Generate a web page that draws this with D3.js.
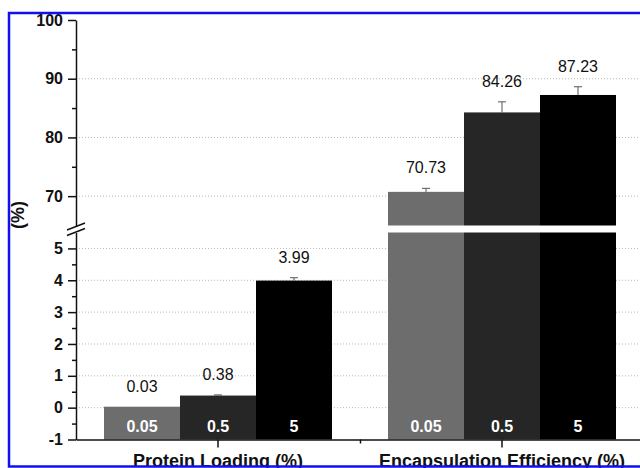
<!DOCTYPE html>
<html>
<head>
<meta charset="utf-8">
<script src="https://cdn.jsdelivr.net/npm/d3@7"></script>
<style>
    body { margin: 0; background: white; }
    svg { display: block; font-family: "Liberation Sans", Arial, sans-serif; }
</style>
</head>
<body>
<div class="bar-chart"></div>
<script>
// data
const categories = ["Protein Loading (%)", "Encapsulation Efficiency (%)"];
const series = ["0.05", "0.5", "5"];
const proteinLoading = [0.03, 0.38, 3.99];
const encapsulation = [70.73, 84.26, 87.23];
const proteinLoadingErr = [0.0, 0.02, 0.09];
const encapsulationErr = [0.6, 1.8, 1.4];
const lowTicks = [-1, 0, 1, 2, 3, 4, 5];
const lowMinor = [-0.5, 0.5, 1.5, 2.5, 3.5, 4.5];
const highTicks = [70, 80, 90, 100];
const highMinor = [65, 75, 85, 95];
const colors = ["#6d6d6d", "#262626", "#000000"];

// flatten into one row per bar
const bars = [];
categories.forEach((cat, i) => {
    const vals = i === 0 ? proteinLoading : encapsulation;
    const errs = i === 0 ? proteinLoadingErr : encapsulationErr;
    series.forEach((s, j) => bars.push({cat: cat, series: s, value: vals[j], err: errs[j], color: colors[j]}));
});

const width = 640;
const height = 468;
const margin = {left: 76, right: -4};
const breakLow = 5.5;   // lower segment ends here
const breakHigh = 65;   // upper segment starts here

const svg = d3.select(".bar-chart")
    .append("svg")
    .attr("width", width)
    .attr("height", height);

// category positions. range runs a bit past the picture like the original
const x = d3.scaleBand()
    .domain(categories)
    .range([margin.left, width - margin.right])
    .paddingInner(0)
    .paddingOuter(0);

const x1 = d3.scaleBand()
    .domain(series)
    .range([28, x.bandwidth() - 28]);

// two y scales for the broken axis
const yLow = d3.scaleLinear()
    .domain([-1, breakLow])
    .range([439.5, 232.5]);

const yHigh = d3.scaleLinear()
    .domain([breakHigh, 100])
    .range([225.5, 20]);

// dotted gridlines first so bars sit on top
const grid = svg.append("g").attr("class", "grid");
grid.selectAll("line.low")
    .data(lowTicks.filter(d => d > -1))
    .enter()
    .append("line")
    .attr("class", "low")
    .attr("x1", margin.left)
    .attr("x2", width)
    .attr("y1", d => yLow(d))
    .attr("y2", d => yLow(d));
grid.selectAll("line.high")
    .data(highTicks.filter(d => d < 100))
    .enter()
    .append("line")
    .attr("class", "high")
    .attr("x1", margin.left)
    .attr("x2", width)
    .attr("y1", d => yHigh(d))
    .attr("y2", d => yHigh(d));
grid.selectAll("line")
    .attr("stroke", "#b8b8b8")
    .attr("stroke-width", 1)
    .attr("stroke-dasharray", "1,2");

// bars. lower piece always from -1, upper piece only if value goes past the break
const barG = svg.append("g");
barG.selectAll("rect.low")
    .data(bars)
    .enter()
    .append("rect")
    .attr("class", "low")
    .attr("x", d => x(d.cat) + x1(d.series))
    .attr("width", x1.bandwidth())
    .attr("y", d => yLow(Math.min(d.value, breakLow)))
    .attr("height", d => yLow(-1) - yLow(Math.min(d.value, breakLow)))
    .attr("fill", d => d.color);

barG.selectAll("rect.high")
    .data(bars.filter(d => d.value > breakHigh))
    .enter()
    .append("rect")
    .attr("class", "high")
    .attr("x", d => x(d.cat) + x1(d.series))
    .attr("width", x1.bandwidth())
    .attr("y", d => yHigh(d.value))
    .attr("height", d => yHigh(breakHigh) - yHigh(d.value))
    .attr("fill", d => d.color);

// which scale a value lives on
const yOf = v => v > breakLow ? yHigh(v) : yLow(v);

// error bars, upper half only
const errG = svg.append("g")
    .attr("stroke", "#555")
    .attr("stroke-width", 1);
errG.selectAll("line.stem")
    .data(bars.filter(d => d.err > 0))
    .enter()
    .append("line")
    .attr("x1", d => x(d.cat) + x1(d.series) + x1.bandwidth() / 2)
    .attr("x2", d => x(d.cat) + x1(d.series) + x1.bandwidth() / 2)
    .attr("y1", d => yOf(d.value))
    .attr("y2", d => yOf(d.value + d.err));
errG.selectAll("line.cap")
    .data(bars.filter(d => d.err > 0))
    .enter()
    .append("line")
    .attr("x1", d => x(d.cat) + x1(d.series) + x1.bandwidth() / 2 - 4)
    .attr("x2", d => x(d.cat) + x1(d.series) + x1.bandwidth() / 2 + 4)
    .attr("y1", d => yOf(d.value + d.err))
    .attr("y2", d => yOf(d.value + d.err));

// value labels above each bar
svg.append("g")
    .selectAll("text")
    .data(bars)
    .enter()
    .append("text")
    .attr("x", d => x(d.cat) + x1(d.series) + x1.bandwidth() / 2)
    .attr("y", d => yOf(d.value + d.err) - 15)
    .attr("text-anchor", "middle")
    .style("font-size", "16px")
    .attr("fill", "#111")
    .text(d => d.value.toFixed(2));

// series names inside the bars, white
svg.append("g")
    .selectAll("text")
    .data(bars)
    .enter()
    .append("text")
    .attr("x", d => x(d.cat) + x1(d.series) + x1.bandwidth() / 2)
    .attr("y", 432)
    .attr("text-anchor", "middle")
    .style("font-size", "16px")
    .style("font-weight", "bold")
    .attr("fill", "white")
    .text(d => d.series);

// y axes, upper and lower
const axisStyle = g => {
    g.select(".domain").attr("stroke", "#111").attr("stroke-width", 1.5);
    g.selectAll(".tick line").attr("stroke", "#111").attr("stroke-width", 1.5);
    g.selectAll(".tick text")
        .style("font-size", "16px")
        .style("font-weight", "bold")
        .attr("fill", "#111");
};

svg.append("g")
    .attr("transform", `translate(${margin.left}, 0)`)
    .call(d3.axisLeft(yLow).tickValues(lowTicks).tickSize(8).tickSizeOuter(0).tickPadding(5).tickFormat(d => String(d)))
    .call(axisStyle);
svg.append("g")
    .attr("transform", `translate(${margin.left}, 0)`)
    .call(d3.axisLeft(yLow).tickValues(lowMinor).tickSize(4).tickFormat(""))
    .call(g => g.select(".domain").remove())
    .call(axisStyle);

svg.append("g")
    .attr("transform", `translate(${margin.left}, 0)`)
    .call(d3.axisLeft(yHigh).tickValues(highTicks).tickSize(8).tickSizeOuter(0).tickPadding(5).tickFormat(d => String(d)))
    .call(axisStyle);
svg.append("g")
    .attr("transform", `translate(${margin.left}, 0)`)
    .call(d3.axisLeft(yHigh).tickValues(highMinor.filter(d => d > breakHigh)).tickSize(4).tickFormat(""))
    .call(g => g.select(".domain").remove())
    .call(axisStyle);

// break marks on the y axis
svg.append("g")
    .selectAll("line")
    .data([yHigh(breakHigh) + 1, yLow(breakLow) - 0.5])
    .enter()
    .append("line")
    .attr("x1", margin.left - 9)
    .attr("x2", margin.left + 9)
    .attr("y1", d => d + 3.5)
    .attr("y2", d => d - 3.5)
    .attr("stroke", "#111")
    .attr("stroke-width", 1.5);

// x axis at -1 with ticks on category centres
svg.append("g")
    .attr("transform", `translate(0, ${yLow(-1)})`)
    .call(d3.axisBottom(x).tickSize(8).tickSizeOuter(0).tickFormat(""))
    .call(axisStyle);
// little tick between the groups
svg.append("g")
    .attr("transform", `translate(0, ${yLow(-1)})`)
    .call(d3.axisBottom(d3.scaleLinear().domain([0, 1]).range([margin.left, width - margin.right]))
        .tickValues([0.5]).tickSize(4).tickFormat(""))
    .call(g => g.select(".domain").remove())
    .call(axisStyle);

// category labels, sitting on the bottom edge like the scan
svg.append("g")
    .selectAll("text")
    .data(categories)
    .enter()
    .append("text")
    .attr("x", d => x(d) + x.bandwidth() / 2)
    .attr("y", 467)
    .attr("text-anchor", "middle")
    .style("font-size", "18px")
    .style("font-weight", "bold")
    .attr("fill", "#111")
    .text(d => d);

// y title
svg.append("text")
    .attr("transform", "translate(24, 215) rotate(-90)")
    .attr("text-anchor", "middle")
    .style("font-size", "18px")
    .style("font-weight", "bold")
    .attr("fill", "#111")
    .text("(%)");

// blue frame around the figure, open on the right
svg.append("rect")
    .attr("x", 9)
    .attr("y", 13)
    .attr("width", 700)
    .attr("height", 453.5)
    .attr("fill", "none")
    .attr("stroke", "#1010f0")
    .attr("stroke-width", 2.5);
</script>
</body>
</html>
